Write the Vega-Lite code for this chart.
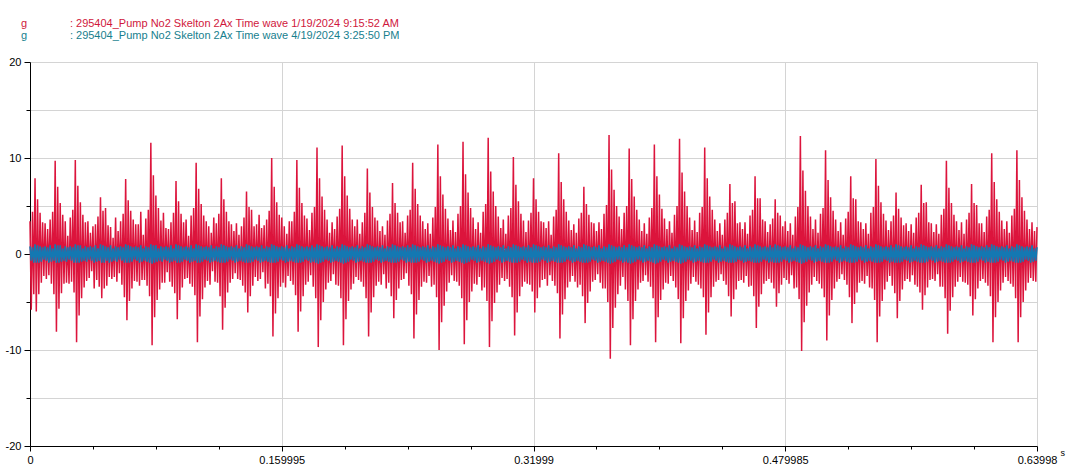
{
"$schema":"https://vega.github.io/schema/vega-lite/v6.json",
"width":1007,"height":384,"autosize":"none",
"padding":{"left":30,"top":62,"right":34,"bottom":26},
"background":"white",
"config":{"view":{"stroke":null},"font":"Liberation Sans"},
"title":{"text":"g\u00a0\u00a0\u00a0\u00a0\u00a0\u00a0\u00a0\u00a0\u00a0\u00a0\u00a0\u00a0\u00a0\u00a0: 295404_Pump No2 Skelton 2Ax Time wave 1/19/2024 9:15:52 AM","subtitle":"g\u00a0\u00a0\u00a0\u00a0\u00a0\u00a0\u00a0\u00a0\u00a0\u00a0\u00a0\u00a0\u00a0\u00a0: 295404_Pump No2 Skelton 2Ax Time wave 4/19/2024 3:25:50 PM","anchor":"start","frame":"group","color":"#D0173C","subtitleColor":"#17808E","fontSize":11,"subtitleFontSize":11,"fontWeight":"normal","font":"Liberation Sans","subtitleFont":"Liberation Sans","offset":15,"dx":-9,"subtitlePadding":1},
"data":{"values":[
{"t":0,"r":3.4,"b":0.8},{"t":0.0008,"r":-5.8,"b":-0.7},{"t":0.0016,"r":4.4,"b":0.7},{"t":0.0024,"r":-4.2,"b":-0.9},{"t":0.0032,"r":7.9,"b":1.0},{"t":0.004,"r":-6.0,"b":-0.9},{"t":0.0048,"r":5.7,"b":0.9},{"t":0.0056,"r":-4.2,"b":-0.9},{"t":0.0064,"r":4.3,"b":0.8},{"t":0.0072,"r":-3.0,"b":-0.8},
{"t":0.008,"r":3.3,"b":0.7},{"t":0.0088,"r":-2.3,"b":-0.6},{"t":0.0096,"r":3.2,"b":0.8},{"t":0.0104,"r":-2.6,"b":-0.7},{"t":0.0112,"r":2.6,"b":0.7},{"t":0.012,"r":-2.2,"b":-0.9},{"t":0.0128,"r":3.6,"b":0.9},{"t":0.0136,"r":-3.1,"b":-0.8},{"t":0.0144,"r":4.4,"b":0.6},{"t":0.0152,"r":-4.2,"b":-0.7},
{"t":0.016,"r":9.7,"b":1.0},{"t":0.0168,"r":-8.1,"b":-0.9},{"t":0.0176,"r":7.0,"b":0.9},{"t":0.0184,"r":-5.7,"b":-0.9},{"t":0.0192,"r":5.3,"b":0.9},{"t":0.02,"r":-4.1,"b":-0.8},{"t":0.0208,"r":4.1,"b":0.6},{"t":0.0216,"r":-3.1,"b":-0.7},{"t":0.0224,"r":3.4,"b":0.8},{"t":0.0232,"r":-3.0,"b":-0.8},
{"t":0.024,"r":1.9,"b":0.7},{"t":0.0248,"r":-3.1,"b":-0.6},{"t":0.0256,"r":3.8,"b":0.8},{"t":0.0264,"r":-2.9,"b":-0.7},{"t":0.0272,"r":4.6,"b":0.7},{"t":0.028,"r":-4.0,"b":-0.9},{"t":0.0288,"r":9.8,"b":1.0},{"t":0.0296,"r":-9.2,"b":-0.9},{"t":0.0304,"r":7.1,"b":0.9},{"t":0.0312,"r":-6.4,"b":-0.9},
{"t":0.032,"r":5.4,"b":0.9},{"t":0.0328,"r":-4.6,"b":-0.8},{"t":0.0336,"r":4.1,"b":0.6},{"t":0.0344,"r":-3.5,"b":-0.7},{"t":0.0352,"r":3.3,"b":0.8},{"t":0.036,"r":-2.8,"b":-0.8},{"t":0.0368,"r":3.4,"b":0.7},{"t":0.0376,"r":-2.5,"b":-0.6},{"t":0.0384,"r":2.2,"b":0.8},{"t":0.0392,"r":-1.8,"b":-0.7},
{"t":0.04,"r":2.9,"b":0.7},{"t":0.0408,"r":-3.6,"b":-0.9},{"t":0.0416,"r":3.1,"b":0.9},{"t":0.0424,"r":-2.7,"b":-0.8},{"t":0.0432,"r":3.9,"b":0.6},{"t":0.044,"r":-3.4,"b":-0.7},{"t":0.0448,"r":5.9,"b":1.0},{"t":0.0456,"r":-4.6,"b":-0.9},{"t":0.0464,"r":4.5,"b":0.9},{"t":0.0472,"r":-3.6,"b":-0.9},
{"t":0.048,"r":4.8,"b":0.8},{"t":0.0488,"r":-3.3,"b":-0.7},{"t":0.0496,"r":3.0,"b":0.7},{"t":0.0504,"r":-2.4,"b":-0.9},{"t":0.0512,"r":2.8,"b":0.9},{"t":0.052,"r":-2.6,"b":-0.8},{"t":0.0528,"r":1.7,"b":0.6},{"t":0.0536,"r":-2.4,"b":-0.7},{"t":0.0544,"r":3.8,"b":0.8},{"t":0.0552,"r":-2.9,"b":-0.8},
{"t":0.056,"r":2.4,"b":0.7},{"t":0.0568,"r":-2.0,"b":-0.6},{"t":0.0576,"r":3.4,"b":0.8},{"t":0.0584,"r":-3.2,"b":-0.7},{"t":0.0592,"r":4.2,"b":0.7},{"t":0.06,"r":-4.5,"b":-0.9},{"t":0.0608,"r":7.8,"b":1.0},{"t":0.0616,"r":-6.9,"b":-0.9},{"t":0.0624,"r":5.6,"b":0.9},{"t":0.0632,"r":-4.9,"b":-0.9},
{"t":0.064,"r":4.5,"b":0.8},{"t":0.0648,"r":-3.6,"b":-0.8},{"t":0.0656,"r":3.6,"b":0.7},{"t":0.0664,"r":-2.8,"b":-0.6},{"t":0.0672,"r":3.1,"b":0.8},{"t":0.068,"r":-2.9,"b":-0.7},{"t":0.0688,"r":3.1,"b":0.7},{"t":0.0696,"r":-3.3,"b":-0.9},{"t":0.0704,"r":4.4,"b":0.9},{"t":0.0712,"r":-2.7,"b":-0.8},
{"t":0.072,"r":2.0,"b":0.6},{"t":0.0728,"r":-2.7,"b":-0.7},{"t":0.0736,"r":3.7,"b":0.8},{"t":0.0744,"r":-3.3,"b":-0.8},{"t":0.0752,"r":4.6,"b":0.7},{"t":0.076,"r":-4.4,"b":-0.9},{"t":0.0768,"r":11.6,"b":1.0},{"t":0.0776,"r":-9.5,"b":-1.0},{"t":0.0784,"r":8.2,"b":0.9},{"t":0.0792,"r":-6.6,"b":-0.9},
{"t":0.08,"r":6.1,"b":0.9},{"t":0.0808,"r":-4.8,"b":-0.8},{"t":0.0816,"r":4.8,"b":0.6},{"t":0.0824,"r":-3.7,"b":-0.7},{"t":0.0832,"r":3.5,"b":0.8},{"t":0.084,"r":-3.0,"b":-0.8},{"t":0.0848,"r":4.3,"b":0.7},{"t":0.0856,"r":-3.0,"b":-0.6},{"t":0.0864,"r":2.7,"b":0.8},{"t":0.0872,"r":-1.9,"b":-0.7},
{"t":0.088,"r":2.6,"b":0.7},{"t":0.0888,"r":-2.9,"b":-0.9},{"t":0.0896,"r":3.3,"b":0.9},{"t":0.0904,"r":-3.4,"b":-0.8},{"t":0.0912,"r":4.3,"b":0.6},{"t":0.092,"r":-4.1,"b":-0.7},{"t":0.0928,"r":7.6,"b":1.0},{"t":0.0936,"r":-6.8,"b":-0.9},{"t":0.0944,"r":5.5,"b":0.9},{"t":0.0952,"r":-4.8,"b":-0.9},
{"t":0.096,"r":4.2,"b":0.8},{"t":0.0968,"r":-3.5,"b":-0.8},{"t":0.0976,"r":3.3,"b":0.7},{"t":0.0984,"r":-2.6,"b":-0.6},{"t":0.0992,"r":3.6,"b":0.8},{"t":0.1,"r":-2.5,"b":-0.7},{"t":0.1008,"r":1.9,"b":0.7},{"t":0.1016,"r":-3.1,"b":-0.9},{"t":0.1024,"r":4.0,"b":0.9},{"t":0.1032,"r":-3.4,"b":-0.8},
{"t":0.104,"r":4.8,"b":0.6},{"t":0.1048,"r":-4.3,"b":-0.7},{"t":0.1056,"r":9.5,"b":1.0},{"t":0.1064,"r":-9.2,"b":-0.9},{"t":0.1072,"r":6.8,"b":0.9},{"t":0.108,"r":-6.5,"b":-0.9},{"t":0.1088,"r":5.2,"b":0.8},{"t":0.1096,"r":-4.7,"b":-0.8},{"t":0.1104,"r":4.0,"b":0.7},{"t":0.1112,"r":-3.5,"b":-0.6},
{"t":0.112,"r":3.4,"b":0.8},{"t":0.1128,"r":-2.8,"b":-0.7},{"t":0.1136,"r":2.9,"b":0.7},{"t":0.1144,"r":-3.2,"b":-0.9},{"t":0.1152,"r":2.2,"b":0.9},{"t":0.116,"r":-1.8,"b":-0.8},{"t":0.1168,"r":3.8,"b":0.6},{"t":0.1176,"r":-2.9,"b":-0.7},{"t":0.1184,"r":3.2,"b":0.8},{"t":0.1192,"r":-3.0,"b":-0.8},
{"t":0.12,"r":4.2,"b":0.7},{"t":0.1208,"r":-4.4,"b":-0.9},{"t":0.1216,"r":7.9,"b":1.0},{"t":0.1224,"r":-7.9,"b":-0.9},{"t":0.1232,"r":5.7,"b":0.9},{"t":0.124,"r":-5.6,"b":-0.9},{"t":0.1248,"r":4.4,"b":0.8},{"t":0.1256,"r":-4.0,"b":-0.8},{"t":0.1264,"r":3.4,"b":0.7},{"t":0.1272,"r":-3.0,"b":-0.6},
{"t":0.128,"r":3.1,"b":0.8},{"t":0.1288,"r":-2.6,"b":-0.7},{"t":0.1296,"r":2.4,"b":0.7},{"t":0.1304,"r":-2.0,"b":-0.9},{"t":0.1312,"r":3.2,"b":0.9},{"t":0.132,"r":-2.6,"b":-0.8},{"t":0.1328,"r":2.0,"b":0.6},{"t":0.1336,"r":-2.7,"b":-0.7},{"t":0.1344,"r":2.9,"b":0.8},{"t":0.1352,"r":-3.3,"b":-0.8},
{"t":0.136,"r":3.8,"b":0.7},{"t":0.1368,"r":-4.0,"b":-0.9},{"t":0.1376,"r":6.5,"b":1.0},{"t":0.1384,"r":-6.1,"b":-0.9},{"t":0.1392,"r":4.9,"b":0.9},{"t":0.14,"r":-4.4,"b":-0.9},{"t":0.1408,"r":4.6,"b":0.8},{"t":0.1416,"r":-3.3,"b":-0.8},{"t":0.1424,"r":2.9,"b":0.7},{"t":0.1432,"r":-2.4,"b":-0.6},
{"t":0.144,"r":3.1,"b":0.8},{"t":0.1448,"r":-2.8,"b":-0.7},{"t":0.1456,"r":4.1,"b":0.7},{"t":0.1464,"r":-2.6,"b":-0.9},{"t":0.1472,"r":2.7,"b":0.9},{"t":0.148,"r":-1.9,"b":-0.8},{"t":0.1488,"r":3.0,"b":0.6},{"t":0.1496,"r":-3.6,"b":-0.7},{"t":0.1504,"r":3.6,"b":0.8},{"t":0.1512,"r":-3.1,"b":-0.8},
{"t":0.152,"r":4.5,"b":0.7},{"t":0.1528,"r":-4.4,"b":-0.9},{"t":0.1536,"r":10.0,"b":1.0},{"t":0.1544,"r":-8.6,"b":-0.9},{"t":0.1552,"r":7.0,"b":0.9},{"t":0.156,"r":-6.2,"b":-0.9},{"t":0.1568,"r":5.4,"b":0.8},{"t":0.1576,"r":-4.6,"b":-0.8},{"t":0.1584,"r":4.1,"b":0.7},{"t":0.1592,"r":-3.4,"b":-0.6},
{"t":0.16,"r":3.8,"b":0.8},{"t":0.1608,"r":-3.0,"b":-0.7},{"t":0.1616,"r":2.9,"b":0.7},{"t":0.1624,"r":-3.5,"b":-0.9},{"t":0.1632,"r":2.1,"b":0.9},{"t":0.164,"r":-2.3,"b":-0.8},{"t":0.1648,"r":3.4,"b":0.6},{"t":0.1656,"r":-2.8,"b":-0.7},{"t":0.1664,"r":3.4,"b":0.8},{"t":0.1672,"r":-3.2,"b":-0.8},
{"t":0.168,"r":4.4,"b":0.7},{"t":0.1688,"r":-4.3,"b":-0.9},{"t":0.1696,"r":9.8,"b":1.0},{"t":0.1704,"r":-8.1,"b":-0.9},{"t":0.1712,"r":6.9,"b":0.9},{"t":0.172,"r":-6.0,"b":-0.9},{"t":0.1728,"r":5.3,"b":0.8},{"t":0.1736,"r":-4.4,"b":-0.8},{"t":0.1744,"r":4.0,"b":0.7},{"t":0.1752,"r":-3.2,"b":-0.6},
{"t":0.176,"r":3.7,"b":0.8},{"t":0.1768,"r":-2.9,"b":-0.7},{"t":0.1776,"r":2.5,"b":0.7},{"t":0.1784,"r":-2.2,"b":-0.9},{"t":0.1792,"r":4.3,"b":0.9},{"t":0.18,"r":-3.4,"b":-0.8},{"t":0.1808,"r":4.9,"b":0.7},{"t":0.1816,"r":-4.6,"b":-0.9},{"t":0.1824,"r":11.1,"b":1.0},{"t":0.1832,"r":-9.7,"b":-1.0},
{"t":0.184,"r":7.9,"b":0.9},{"t":0.1848,"r":-6.9,"b":-0.9},{"t":0.1856,"r":6.0,"b":0.8},{"t":0.1864,"r":-5.0,"b":-0.8},{"t":0.1872,"r":4.6,"b":0.7},{"t":0.188,"r":-3.7,"b":-0.6},{"t":0.1888,"r":3.6,"b":0.8},{"t":0.1896,"r":-3.0,"b":-0.7},{"t":0.1904,"r":2.2,"b":0.7},{"t":0.1912,"r":-2.8,"b":-0.9},
{"t":0.192,"r":3.3,"b":0.9},{"t":0.1928,"r":-2.1,"b":-0.8},{"t":0.1936,"r":2.6,"b":0.6},{"t":0.1944,"r":-3.2,"b":-0.7},{"t":0.1952,"r":3.9,"b":0.8},{"t":0.196,"r":-3.3,"b":-0.8},{"t":0.1968,"r":4.7,"b":0.7},{"t":0.1976,"r":-4.6,"b":-0.9},{"t":0.1984,"r":11.3,"b":1.0},{"t":0.1992,"r":-9.5,"b":-1.0},
{"t":0.2,"r":8.1,"b":0.9},{"t":0.2008,"r":-6.8,"b":-0.9},{"t":0.2016,"r":6.1,"b":0.8},{"t":0.2024,"r":-4.9,"b":-0.8},{"t":0.2032,"r":4.7,"b":0.7},{"t":0.204,"r":-3.7,"b":-0.6},{"t":0.2048,"r":3.6,"b":0.8},{"t":0.2056,"r":-3.1,"b":-0.7},{"t":0.2064,"r":2.9,"b":0.7},{"t":0.2072,"r":-2.4,"b":-0.9},
{"t":0.208,"r":3.6,"b":0.9},{"t":0.2088,"r":-2.7,"b":-0.8},{"t":0.2096,"r":2.1,"b":0.6},{"t":0.2104,"r":-2.9,"b":-0.7},{"t":0.2112,"r":3.3,"b":0.8},{"t":0.212,"r":-3.4,"b":-0.8},{"t":0.2128,"r":4.3,"b":0.7},{"t":0.2136,"r":-4.6,"b":-0.9},{"t":0.2144,"r":8.9,"b":1.0},{"t":0.2152,"r":-8.6,"b":-0.9},
{"t":0.216,"r":6.4,"b":0.9},{"t":0.2168,"r":-6.1,"b":-0.9},{"t":0.2176,"r":4.9,"b":0.8},{"t":0.2184,"r":-4.5,"b":-0.8},{"t":0.2192,"r":3.8,"b":0.7},{"t":0.22,"r":-3.3,"b":-0.6},{"t":0.2208,"r":3.5,"b":0.8},{"t":0.2216,"r":-2.9,"b":-0.7},{"t":0.2224,"r":2.4,"b":0.7},{"t":0.2232,"r":-3.2,"b":-0.9},
{"t":0.224,"r":2.9,"b":0.9},{"t":0.2248,"r":-2.1,"b":-0.8},{"t":0.2256,"r":2.0,"b":0.6},{"t":0.2264,"r":-3.6,"b":-0.7},{"t":0.2272,"r":3.5,"b":0.8},{"t":0.228,"r":-3.0,"b":-0.8},{"t":0.2288,"r":4.2,"b":0.7},{"t":0.2296,"r":-4.4,"b":-0.9},{"t":0.2304,"r":7.4,"b":1.0},{"t":0.2312,"r":-6.7,"b":-0.9},
{"t":0.232,"r":5.3,"b":0.9},{"t":0.2328,"r":-4.8,"b":-0.9},{"t":0.2336,"r":4.3,"b":0.8},{"t":0.2344,"r":-3.6,"b":-0.8},{"t":0.2352,"r":3.3,"b":0.7},{"t":0.236,"r":-2.7,"b":-0.6},{"t":0.2368,"r":3.4,"b":0.8},{"t":0.2376,"r":-2.6,"b":-0.7},{"t":0.2384,"r":2.2,"b":0.7},{"t":0.2392,"r":-2.0,"b":-0.9},
{"t":0.24,"r":4.0,"b":0.9},{"t":0.2408,"r":-3.3,"b":-0.8},{"t":0.2416,"r":4.6,"b":0.7},{"t":0.2424,"r":-4.2,"b":-0.9},{"t":0.2432,"r":9.5,"b":1.0},{"t":0.244,"r":-8.8,"b":-0.9},{"t":0.2448,"r":6.8,"b":0.9},{"t":0.2456,"r":-6.3,"b":-0.9},{"t":0.2464,"r":5.2,"b":0.8},{"t":0.2472,"r":-4.8,"b":-0.8},
{"t":0.248,"r":4.0,"b":0.7},{"t":0.2488,"r":-3.4,"b":-0.6},{"t":0.2496,"r":3.4,"b":0.8},{"t":0.2504,"r":-2.9,"b":-0.7},{"t":0.2512,"r":2.6,"b":0.7},{"t":0.252,"r":-3.0,"b":-0.9},{"t":0.2528,"r":3.2,"b":0.9},{"t":0.2536,"r":-2.3,"b":-0.8},{"t":0.2544,"r":2.1,"b":0.6},{"t":0.2552,"r":-3.4,"b":-0.7},
{"t":0.256,"r":3.8,"b":0.8},{"t":0.2568,"r":-3.2,"b":-0.8},{"t":0.2576,"r":4.9,"b":0.7},{"t":0.2584,"r":-4.5,"b":-0.9},{"t":0.2592,"r":11.4,"b":1.0},{"t":0.26,"r":-10.0,"b":-1.0},{"t":0.2608,"r":8.1,"b":0.9},{"t":0.2616,"r":-7.1,"b":-0.9},{"t":0.2624,"r":6.2,"b":0.8},{"t":0.2632,"r":-5.4,"b":-0.8},
{"t":0.264,"r":4.7,"b":0.7},{"t":0.2648,"r":-3.9,"b":-0.6},{"t":0.2656,"r":3.7,"b":0.8},{"t":0.2664,"r":-3.0,"b":-0.7},{"t":0.2672,"r":2.5,"b":0.7},{"t":0.268,"r":-2.2,"b":-0.9},{"t":0.2688,"r":3.5,"b":0.9},{"t":0.2696,"r":-2.8,"b":-0.8},{"t":0.2704,"r":2.3,"b":0.6},{"t":0.2712,"r":-2.9,"b":-0.7},
{"t":0.272,"r":4.2,"b":0.8},{"t":0.2728,"r":-3.3,"b":-0.8},{"t":0.2736,"r":5.0,"b":0.7},{"t":0.2744,"r":-4.6,"b":-0.9},{"t":0.2752,"r":11.7,"b":1.0},{"t":0.276,"r":-9.4,"b":-1.0},{"t":0.2768,"r":8.3,"b":0.9},{"t":0.2776,"r":-6.9,"b":-0.9},{"t":0.2784,"r":6.4,"b":0.8},{"t":0.2792,"r":-5.0,"b":-0.8},
{"t":0.28,"r":4.8,"b":0.7},{"t":0.2808,"r":-3.9,"b":-0.6},{"t":0.2816,"r":3.8,"b":0.8},{"t":0.2824,"r":-3.1,"b":-0.7},{"t":0.2832,"r":2.6,"b":0.7},{"t":0.284,"r":-3.2,"b":-0.9},{"t":0.2848,"r":3.3,"b":0.9},{"t":0.2856,"r":-2.4,"b":-0.8},{"t":0.2864,"r":2.2,"b":0.6},{"t":0.2872,"r":-3.8,"b":-0.7},
{"t":0.288,"r":4.4,"b":0.8},{"t":0.2888,"r":-3.5,"b":-0.8},{"t":0.2896,"r":5.2,"b":0.7},{"t":0.2904,"r":-4.9,"b":-0.9},{"t":0.2912,"r":12.1,"b":1.0},{"t":0.292,"r":-9.7,"b":-1.0},{"t":0.2928,"r":8.6,"b":0.9},{"t":0.2936,"r":-7.0,"b":-0.9},{"t":0.2944,"r":6.5,"b":0.8},{"t":0.2952,"r":-5.1,"b":-0.8},
{"t":0.296,"r":5.0,"b":0.7},{"t":0.2968,"r":-4.0,"b":-0.6},{"t":0.2976,"r":3.9,"b":0.8},{"t":0.2984,"r":-3.2,"b":-0.7},{"t":0.2992,"r":2.7,"b":0.7},{"t":0.3,"r":-2.5,"b":-0.9},{"t":0.3008,"r":3.6,"b":0.9},{"t":0.3016,"r":-2.8,"b":-0.8},{"t":0.3024,"r":2.1,"b":0.6},{"t":0.3032,"r":-2.6,"b":-0.7},
{"t":0.304,"r":4.0,"b":0.8},{"t":0.3048,"r":-3.4,"b":-0.8},{"t":0.3056,"r":4.8,"b":0.7},{"t":0.3064,"r":-4.5,"b":-0.9},{"t":0.3072,"r":10.1,"b":1.0},{"t":0.308,"r":-8.5,"b":-0.9},{"t":0.3088,"r":7.2,"b":0.9},{"t":0.3096,"r":-6.1,"b":-0.9},{"t":0.3104,"r":5.5,"b":0.8},{"t":0.3112,"r":-4.4,"b":-0.8},
{"t":0.312,"r":4.2,"b":0.7},{"t":0.3128,"r":-3.4,"b":-0.6},{"t":0.3136,"r":3.5,"b":0.8},{"t":0.3144,"r":-2.9,"b":-0.7},{"t":0.3152,"r":2.3,"b":0.7},{"t":0.316,"r":-3.1,"b":-0.9},{"t":0.3168,"r":3.5,"b":0.9},{"t":0.3176,"r":-3.2,"b":-0.8},{"t":0.3184,"r":4.3,"b":0.7},{"t":0.3192,"r":-3.9,"b":-0.9},
{"t":0.32,"r":7.9,"b":1.0},{"t":0.3208,"r":-6.1,"b":-0.9},{"t":0.3216,"r":5.7,"b":0.9},{"t":0.3224,"r":-4.6,"b":-0.9},{"t":0.3232,"r":4.4,"b":0.8},{"t":0.324,"r":-3.5,"b":-0.8},{"t":0.3248,"r":3.4,"b":0.7},{"t":0.3256,"r":-2.7,"b":-0.6},{"t":0.3264,"r":3.3,"b":0.8},{"t":0.3272,"r":-2.6,"b":-0.7},
{"t":0.328,"r":2.7,"b":0.7},{"t":0.3288,"r":-3.3,"b":-0.9},{"t":0.3296,"r":3.4,"b":0.9},{"t":0.3304,"r":-2.2,"b":-0.8},{"t":0.3312,"r":2.0,"b":0.6},{"t":0.332,"r":-2.8,"b":-0.7},{"t":0.3328,"r":3.9,"b":0.8},{"t":0.3336,"r":-3.3,"b":-0.8},{"t":0.3344,"r":4.6,"b":0.7},{"t":0.3352,"r":-4.1,"b":-0.9},
{"t":0.336,"r":10.5,"b":1.0},{"t":0.3368,"r":-8.8,"b":-0.9},{"t":0.3376,"r":7.5,"b":0.9},{"t":0.3384,"r":-6.3,"b":-0.9},{"t":0.3392,"r":5.7,"b":0.8},{"t":0.34,"r":-4.7,"b":-0.8},{"t":0.3408,"r":4.4,"b":0.7},{"t":0.3416,"r":-3.5,"b":-0.6},{"t":0.3424,"r":3.5,"b":0.8},{"t":0.3432,"r":-2.9,"b":-0.7},
{"t":0.344,"r":2.5,"b":0.7},{"t":0.3448,"r":-2.3,"b":-0.9},{"t":0.3456,"r":3.1,"b":0.9},{"t":0.3464,"r":-2.9,"b":-0.8},{"t":0.3472,"r":2.2,"b":0.6},{"t":0.348,"r":-3.5,"b":-0.7},{"t":0.3488,"r":3.7,"b":0.8},{"t":0.3496,"r":-3.2,"b":-0.8},{"t":0.3504,"r":4.3,"b":0.7},{"t":0.3512,"r":-4.4,"b":-0.9},
{"t":0.352,"r":7.0,"b":1.0},{"t":0.3528,"r":-7.2,"b":-0.9},{"t":0.3536,"r":5.2,"b":0.9},{"t":0.3544,"r":-5.1,"b":-0.9},{"t":0.3552,"r":4.1,"b":0.8},{"t":0.356,"r":-3.9,"b":-0.8},{"t":0.3568,"r":3.3,"b":0.7},{"t":0.3576,"r":-2.9,"b":-0.6},{"t":0.3584,"r":3.2,"b":0.8},{"t":0.3592,"r":-2.7,"b":-0.7},
{"t":0.36,"r":2.4,"b":0.7},{"t":0.3608,"r":-2.1,"b":-0.9},{"t":0.3616,"r":3.3,"b":0.9},{"t":0.3624,"r":-3.0,"b":-0.8},{"t":0.3632,"r":2.6,"b":0.6},{"t":0.364,"r":-3.6,"b":-0.7},{"t":0.3648,"r":4.2,"b":0.8},{"t":0.3656,"r":-3.6,"b":-0.8},{"t":0.3664,"r":5.1,"b":0.7},{"t":0.3672,"r":-5.0,"b":-0.9},
{"t":0.368,"r":12.4,"b":1.0},{"t":0.3688,"r":-10.9,"b":-1.0},{"t":0.3696,"r":8.8,"b":0.9},{"t":0.3704,"r":-7.7,"b":-0.9},{"t":0.3712,"r":6.7,"b":0.8},{"t":0.372,"r":-5.6,"b":-0.8},{"t":0.3728,"r":5.0,"b":0.7},{"t":0.3736,"r":-4.2,"b":-0.6},{"t":0.3744,"r":3.9,"b":0.8},{"t":0.3752,"r":-3.3,"b":-0.7},
{"t":0.376,"r":2.6,"b":0.7},{"t":0.3768,"r":-2.4,"b":-0.9},{"t":0.3776,"r":4.3,"b":0.9},{"t":0.3784,"r":-3.7,"b":-0.8},{"t":0.3792,"r":5.0,"b":0.7},{"t":0.38,"r":-4.9,"b":-0.9},{"t":0.3808,"r":11.0,"b":1.0},{"t":0.3816,"r":-9.5,"b":-1.0},{"t":0.3824,"r":7.8,"b":0.9},{"t":0.3832,"r":-6.8,"b":-0.9},
{"t":0.384,"r":6.0,"b":0.8},{"t":0.3848,"r":-4.9,"b":-0.8},{"t":0.3856,"r":4.6,"b":0.7},{"t":0.3864,"r":-3.7,"b":-0.6},{"t":0.3872,"r":3.6,"b":0.8},{"t":0.388,"r":-3.0,"b":-0.7},{"t":0.3888,"r":2.4,"b":0.7},{"t":0.3896,"r":-2.8,"b":-0.9},{"t":0.3904,"r":3.2,"b":0.9},{"t":0.3912,"r":-2.2,"b":-0.8},
{"t":0.392,"r":2.1,"b":0.6},{"t":0.3928,"r":-2.9,"b":-0.7},{"t":0.3936,"r":3.8,"b":0.8},{"t":0.3944,"r":-3.4,"b":-0.8},{"t":0.3952,"r":4.8,"b":0.7},{"t":0.396,"r":-4.6,"b":-0.9},{"t":0.3968,"r":11.4,"b":1.0},{"t":0.3976,"r":-9.2,"b":-1.0},{"t":0.3984,"r":8.1,"b":0.9},{"t":0.3992,"r":-6.6,"b":-0.9},
{"t":0.4,"r":6.2,"b":0.8},{"t":0.4008,"r":-4.8,"b":-0.8},{"t":0.4016,"r":4.7,"b":0.7},{"t":0.4024,"r":-3.7,"b":-0.6},{"t":0.4032,"r":3.7,"b":0.8},{"t":0.404,"r":-3.0,"b":-0.7},{"t":0.4048,"r":2.6,"b":0.7},{"t":0.4056,"r":-3.1,"b":-0.9},{"t":0.4064,"r":3.4,"b":0.9},{"t":0.4072,"r":-2.3,"b":-0.8},
{"t":0.408,"r":2.2,"b":0.6},{"t":0.4088,"r":-2.8,"b":-0.7},{"t":0.4096,"r":4.1,"b":0.8},{"t":0.4104,"r":-3.5,"b":-0.8},{"t":0.4112,"r":5.0,"b":0.7},{"t":0.412,"r":-4.7,"b":-0.9},{"t":0.4128,"r":12.0,"b":1.0},{"t":0.4136,"r":-9.3,"b":-1.0},{"t":0.4144,"r":8.5,"b":0.9},{"t":0.4152,"r":-6.7,"b":-0.9},
{"t":0.416,"r":6.5,"b":0.8},{"t":0.4168,"r":-4.9,"b":-0.8},{"t":0.4176,"r":5.0,"b":0.7},{"t":0.4184,"r":-3.8,"b":-0.6},{"t":0.4192,"r":3.8,"b":0.8},{"t":0.42,"r":-3.1,"b":-0.7},{"t":0.4208,"r":2.5,"b":0.7},{"t":0.4216,"r":-2.4,"b":-0.9},{"t":0.4224,"r":3.5,"b":0.9},{"t":0.4232,"r":-2.9,"b":-0.8},
{"t":0.424,"r":2.3,"b":0.6},{"t":0.4248,"r":-3.2,"b":-0.7},{"t":0.4256,"r":4.3,"b":0.8},{"t":0.4264,"r":-3.6,"b":-0.8},{"t":0.4272,"r":4.9,"b":0.7},{"t":0.428,"r":-4.5,"b":-0.9},{"t":0.4288,"r":11.1,"b":1.0},{"t":0.4296,"r":-8.4,"b":-0.9},{"t":0.4304,"r":7.9,"b":0.9},{"t":0.4312,"r":-6.1,"b":-0.9},
{"t":0.432,"r":6.0,"b":0.8},{"t":0.4328,"r":-4.5,"b":-0.8},{"t":0.4336,"r":4.6,"b":0.7},{"t":0.4344,"r":-3.4,"b":-0.6},{"t":0.4352,"r":3.6,"b":0.8},{"t":0.436,"r":-2.9,"b":-0.7},{"t":0.4368,"r":2.4,"b":0.7},{"t":0.4376,"r":-2.7,"b":-0.9},{"t":0.4384,"r":3.2,"b":0.9},{"t":0.4392,"r":-2.1,"b":-0.8},
{"t":0.44,"r":2.0,"b":0.6},{"t":0.4408,"r":-2.8,"b":-0.7},{"t":0.4416,"r":3.6,"b":0.8},{"t":0.4424,"r":-3.2,"b":-0.8},{"t":0.4432,"r":4.3,"b":0.7},{"t":0.444,"r":-4.4,"b":-0.9},{"t":0.4448,"r":7.3,"b":1.0},{"t":0.4456,"r":-6.5,"b":-0.9},{"t":0.4464,"r":5.3,"b":0.9},{"t":0.4472,"r":-4.7,"b":-0.9},
{"t":0.448,"r":5.5,"b":0.8},{"t":0.4488,"r":-3.7,"b":-0.8},{"t":0.4496,"r":3.2,"b":0.7},{"t":0.4504,"r":-2.8,"b":-0.6},{"t":0.4512,"r":3.3,"b":0.8},{"t":0.452,"r":-2.7,"b":-0.7},{"t":0.4528,"r":2.6,"b":0.7},{"t":0.4536,"r":-3.0,"b":-0.9},{"t":0.4544,"r":3.3,"b":0.9},{"t":0.4552,"r":-2.3,"b":-0.8},
{"t":0.456,"r":2.1,"b":0.6},{"t":0.4568,"r":-3.4,"b":-0.7},{"t":0.4576,"r":4.0,"b":0.8},{"t":0.4584,"r":-3.3,"b":-0.8},{"t":0.4592,"r":4.6,"b":0.7},{"t":0.46,"r":-4.4,"b":-0.9},{"t":0.4608,"r":8.1,"b":1.0},{"t":0.4616,"r":-7.7,"b":-0.9},{"t":0.4624,"r":5.8,"b":0.9},{"t":0.4632,"r":-5.5,"b":-0.9},
{"t":0.464,"r":5.8,"b":0.8},{"t":0.4648,"r":-4.2,"b":-0.8},{"t":0.4656,"r":3.6,"b":0.7},{"t":0.4664,"r":-3.1,"b":-0.6},{"t":0.4672,"r":3.4,"b":0.8},{"t":0.468,"r":-2.8,"b":-0.7},{"t":0.4688,"r":2.3,"b":0.7},{"t":0.4696,"r":-2.6,"b":-0.9},{"t":0.4704,"r":3.1,"b":0.9},{"t":0.4712,"r":-3.0,"b":-0.8},
{"t":0.472,"r":3.7,"b":0.7},{"t":0.4728,"r":-3.6,"b":-0.9},{"t":0.4736,"r":5.7,"b":1.0},{"t":0.4744,"r":-5.5,"b":-0.9},{"t":0.4752,"r":4.3,"b":0.9},{"t":0.476,"r":-4.1,"b":-0.9},{"t":0.4768,"r":4.0,"b":0.8},{"t":0.4776,"r":-3.2,"b":-0.8},{"t":0.4784,"r":2.9,"b":0.7},{"t":0.4792,"r":-2.5,"b":-0.6},
{"t":0.48,"r":3.4,"b":0.8},{"t":0.4808,"r":-2.7,"b":-0.7},{"t":0.4816,"r":2.4,"b":0.7},{"t":0.4824,"r":-3.1,"b":-0.9},{"t":0.4832,"r":3.2,"b":0.9},{"t":0.484,"r":-2.2,"b":-0.8},{"t":0.4848,"r":2.0,"b":0.6},{"t":0.4856,"r":-3.6,"b":-0.7},{"t":0.4864,"r":3.9,"b":0.8},{"t":0.4872,"r":-3.5,"b":-0.8},
{"t":0.488,"r":4.9,"b":0.7},{"t":0.4888,"r":-4.7,"b":-0.9},{"t":0.4896,"r":12.3,"b":1.0},{"t":0.4904,"r":-10.1,"b":-1.0},{"t":0.4912,"r":8.7,"b":0.9},{"t":0.492,"r":-7.1,"b":-0.9},{"t":0.4928,"r":6.6,"b":0.8},{"t":0.4936,"r":-5.4,"b":-0.8},{"t":0.4944,"r":5.0,"b":0.7},{"t":0.4952,"r":-4.0,"b":-0.6},
{"t":0.496,"r":3.9,"b":0.8},{"t":0.4968,"r":-3.2,"b":-0.7},{"t":0.4976,"r":2.6,"b":0.7},{"t":0.4984,"r":-2.4,"b":-0.9},{"t":0.4992,"r":3.6,"b":0.9},{"t":0.5,"r":-2.8,"b":-0.8},{"t":0.5008,"r":2.2,"b":0.6},{"t":0.5016,"r":-3.1,"b":-0.7},{"t":0.5024,"r":4.2,"b":0.8},{"t":0.5032,"r":-3.6,"b":-0.8},
{"t":0.504,"r":4.8,"b":0.7},{"t":0.5048,"r":-4.5,"b":-0.9},{"t":0.5056,"r":10.8,"b":1.0},{"t":0.5064,"r":-9.0,"b":-0.9},{"t":0.5072,"r":7.7,"b":0.9},{"t":0.508,"r":-6.4,"b":-0.9},{"t":0.5088,"r":5.9,"b":0.8},{"t":0.5096,"r":-4.8,"b":-0.8},{"t":0.5104,"r":4.5,"b":0.7},{"t":0.5112,"r":-3.6,"b":-0.6},
{"t":0.512,"r":3.6,"b":0.8},{"t":0.5128,"r":-2.9,"b":-0.7},{"t":0.5136,"r":2.4,"b":0.7},{"t":0.5144,"r":-2.6,"b":-0.9},{"t":0.5152,"r":3.3,"b":0.9},{"t":0.516,"r":-2.1,"b":-0.8},{"t":0.5168,"r":2.0,"b":0.6},{"t":0.5176,"r":-2.7,"b":-0.7},{"t":0.5184,"r":3.7,"b":0.8},{"t":0.5192,"r":-3.2,"b":-0.8},
{"t":0.52,"r":4.4,"b":0.7},{"t":0.5208,"r":-4.5,"b":-0.9},{"t":0.5216,"r":8.1,"b":1.0},{"t":0.5224,"r":-7.2,"b":-0.9},{"t":0.5232,"r":5.8,"b":0.9},{"t":0.524,"r":-5.2,"b":-0.9},{"t":0.5248,"r":5.7,"b":0.8},{"t":0.5256,"r":-4.0,"b":-0.8},{"t":0.5264,"r":3.4,"b":0.7},{"t":0.5272,"r":-3.0,"b":-0.6},
{"t":0.528,"r":3.3,"b":0.8},{"t":0.5288,"r":-2.8,"b":-0.7},{"t":0.5296,"r":2.6,"b":0.7},{"t":0.5304,"r":-3.1,"b":-0.9},{"t":0.5312,"r":3.2,"b":0.9},{"t":0.532,"r":-2.3,"b":-0.8},{"t":0.5328,"r":2.1,"b":0.6},{"t":0.5336,"r":-3.5,"b":-0.7},{"t":0.5344,"r":4.3,"b":0.8},{"t":0.5352,"r":-3.6,"b":-0.8},
{"t":0.536,"r":4.9,"b":0.7},{"t":0.5368,"r":-4.8,"b":-0.9},{"t":0.5376,"r":9.9,"b":1.0},{"t":0.5384,"r":-9.2,"b":-0.9},{"t":0.5392,"r":7.1,"b":0.9},{"t":0.54,"r":-6.5,"b":-0.9},{"t":0.5408,"r":5.4,"b":0.8},{"t":0.5416,"r":-4.9,"b":-0.8},{"t":0.5424,"r":4.2,"b":0.7},{"t":0.5432,"r":-3.7,"b":-0.6},
{"t":0.544,"r":3.5,"b":0.8},{"t":0.5448,"r":-2.9,"b":-0.7},{"t":0.5456,"r":2.5,"b":0.7},{"t":0.5464,"r":-2.3,"b":-0.9},{"t":0.5472,"r":3.4,"b":0.9},{"t":0.548,"r":-3.3,"b":-0.8},{"t":0.5488,"r":4.0,"b":0.7},{"t":0.5496,"r":-4.1,"b":-0.9},{"t":0.5504,"r":6.4,"b":1.0},{"t":0.5512,"r":-6.7,"b":-0.9},
{"t":0.552,"r":4.7,"b":0.9},{"t":0.5528,"r":-4.9,"b":-0.9},{"t":0.5536,"r":3.8,"b":0.8},{"t":0.5544,"r":-3.7,"b":-0.8},{"t":0.5552,"r":3.0,"b":0.7},{"t":0.556,"r":-2.8,"b":-0.6},{"t":0.5568,"r":3.2,"b":0.8},{"t":0.5576,"r":-2.6,"b":-0.7},{"t":0.5584,"r":2.4,"b":0.7},{"t":0.5592,"r":-2.9,"b":-0.9},
{"t":0.56,"r":3.1,"b":0.9},{"t":0.5608,"r":-2.2,"b":-0.8},{"t":0.5616,"r":2.2,"b":0.6},{"t":0.5624,"r":-3.2,"b":-0.7},{"t":0.5632,"r":3.8,"b":0.8},{"t":0.564,"r":-3.4,"b":-0.8},{"t":0.5648,"r":4.3,"b":0.7},{"t":0.5656,"r":-4.0,"b":-0.9},{"t":0.5664,"r":7.2,"b":1.0},{"t":0.5672,"r":-5.8,"b":-0.9},
{"t":0.568,"r":5.3,"b":0.9},{"t":0.5688,"r":-4.3,"b":-0.9},{"t":0.5696,"r":5.4,"b":0.8},{"t":0.5704,"r":-3.5,"b":-0.8},{"t":0.5712,"r":3.3,"b":0.7},{"t":0.572,"r":-2.7,"b":-0.6},{"t":0.5728,"r":3.2,"b":0.8},{"t":0.5736,"r":-2.6,"b":-0.7},{"t":0.5744,"r":2.3,"b":0.7},{"t":0.5752,"r":-2.8,"b":-0.9},
{"t":0.576,"r":3.1,"b":0.9},{"t":0.5768,"r":-2.1,"b":-0.8},{"t":0.5776,"r":2.1,"b":0.6},{"t":0.5784,"r":-3.4,"b":-0.7},{"t":0.5792,"r":4.1,"b":0.8},{"t":0.58,"r":-3.4,"b":-0.8},{"t":0.5808,"r":4.7,"b":0.7},{"t":0.5816,"r":-4.6,"b":-0.9},{"t":0.5824,"r":9.7,"b":1.0},{"t":0.5832,"r":-8.3,"b":-0.9},
{"t":0.584,"r":6.9,"b":0.9},{"t":0.5848,"r":-5.9,"b":-0.9},{"t":0.5856,"r":5.3,"b":0.8},{"t":0.5864,"r":-4.5,"b":-0.8},{"t":0.5872,"r":4.1,"b":0.7},{"t":0.588,"r":-3.4,"b":-0.6},{"t":0.5888,"r":3.4,"b":0.8},{"t":0.5896,"r":-2.9,"b":-0.7},{"t":0.5904,"r":2.5,"b":0.7},{"t":0.5912,"r":-2.4,"b":-0.9},
{"t":0.592,"r":3.3,"b":0.9},{"t":0.5928,"r":-2.9,"b":-0.8},{"t":0.5936,"r":2.1,"b":0.6},{"t":0.5944,"r":-3.0,"b":-0.7},{"t":0.5952,"r":3.6,"b":0.8},{"t":0.596,"r":-3.2,"b":-0.8},{"t":0.5968,"r":4.3,"b":0.7},{"t":0.5976,"r":-4.4,"b":-0.9},{"t":0.5984,"r":7.3,"b":1.0},{"t":0.5992,"r":-6.4,"b":-0.9},
{"t":0.6,"r":5.3,"b":0.9},{"t":0.6008,"r":-4.7,"b":-0.9},{"t":0.6016,"r":5.1,"b":0.8},{"t":0.6024,"r":-3.6,"b":-0.8},{"t":0.6032,"r":3.2,"b":0.7},{"t":0.604,"r":-2.8,"b":-0.6},{"t":0.6048,"r":3.2,"b":0.8},{"t":0.6056,"r":-2.6,"b":-0.7},{"t":0.6064,"r":2.3,"b":0.7},{"t":0.6072,"r":-3.0,"b":-0.9},
{"t":0.608,"r":3.9,"b":0.9},{"t":0.6088,"r":-3.3,"b":-0.8},{"t":0.6096,"r":4.6,"b":0.7},{"t":0.6104,"r":-4.4,"b":-0.9},{"t":0.6112,"r":10.5,"b":1.0},{"t":0.612,"r":-9.2,"b":-0.9},{"t":0.6128,"r":7.5,"b":0.9},{"t":0.6136,"r":-6.6,"b":-0.9},{"t":0.6144,"r":5.7,"b":0.8},{"t":0.6152,"r":-5.0,"b":-0.8},
{"t":0.616,"r":4.4,"b":0.7},{"t":0.6168,"r":-3.8,"b":-0.6},{"t":0.6176,"r":3.5,"b":0.8},{"t":0.6184,"r":-3.0,"b":-0.7},{"t":0.6192,"r":2.6,"b":0.7},{"t":0.62,"r":-2.4,"b":-0.9},{"t":0.6208,"r":3.4,"b":0.9},{"t":0.6216,"r":-2.8,"b":-0.8},{"t":0.6224,"r":2.2,"b":0.6},{"t":0.6232,"r":-3.1,"b":-0.7},
{"t":0.624,"r":4.0,"b":0.8},{"t":0.6248,"r":-3.4,"b":-0.8},{"t":0.6256,"r":4.7,"b":0.7},{"t":0.6264,"r":-4.6,"b":-0.9},{"t":0.6272,"r":10.8,"b":1.0},{"t":0.628,"r":-9.2,"b":-0.9},{"t":0.6288,"r":7.7,"b":0.9},{"t":0.6296,"r":-6.6,"b":-0.9},{"t":0.6304,"r":5.9,"b":0.8},{"t":0.6312,"r":-5.0,"b":-0.8},
{"t":0.632,"r":4.5,"b":0.7},{"t":0.6328,"r":-3.8,"b":-0.6},{"t":0.6336,"r":3.6,"b":0.8},{"t":0.6344,"r":-3.0,"b":-0.7},{"t":0.6352,"r":2.6,"b":0.7},{"t":0.636,"r":-2.5,"b":-0.9},{"t":0.6368,"r":3.3,"b":0.9},{"t":0.6376,"r":-2.8,"b":-0.8},{"t":0.6384,"r":2.4,"b":0.6},{"t":0.6392,"r":-2.9,"b":-0.7},
{"t":0.63998,"r":2.8,"b":0.7}
]},
"encoding":{"x":{"field":"t","type":"quantitative","scale":{"domain":[0,0.63998],"nice":false,"zero":false},"axis":{"values":[0,0.03999875,0.0799975,0.11999625,0.159995,0.19999375,0.2399925,0.27999125,0.31999,0.35998875,0.3999875,0.43998625,0.479985,0.51998375,0.5599825,0.59998125,0.63998],"labelExpr":"abs(datum.value/0.159995 - round(datum.value/0.159995)) < 0.001 ? format(datum.value, '.6~f') : ''","labelFlush":false,"labelOverlap":false,"labelFontSize":11,"labelFont":"Liberation Sans","labelColor":"black","labelPadding":3,"domainColor":"black","tickColor":"black","tickSize":{"condition":{"test":"abs(datum.value/0.159995 - round(datum.value/0.159995)) < 0.001","value":5},"value":3},"grid":true,"gridColor":"#D4D4D4","gridOpacity":{"condition":{"test":"abs(datum.value/0.159995 - round(datum.value/0.159995)) < 0.001","value":1},"value":0},"title":"s","titleX":1030,"titleY":6,"titleAlign":"left","titleBaseline":"middle","titleFontSize":9,"titleFontWeight":"normal","titleColor":"black","titleFont":"Liberation Sans"}}},
"layer":[
{"mark":{"type":"line","color":"#DC143C","strokeWidth":1.5},
 "encoding":{"y":{"field":"r","type":"quantitative","scale":{"domain":[-20,20],"nice":false,"zero":false},"axis":{"values":[-20,-17.5,-15,-12.5,-10,-7.5,-5,-2.5,0,2.5,5,7.5,10,12.5,15,17.5,20],"labelExpr":"datum.value % 10 === 0 ? '' + datum.value : ''","labelOverlap":false,"labelFontSize":11,"labelFont":"Liberation Sans","labelColor":"black","labelPadding":3,"domainColor":"black","tickColor":"black","tickSize":{"condition":{"test":"datum.value % 10 === 0","value":6},"value":4},"grid":true,"gridColor":"#D4D4D4","title":null}}}},
{"mark":{"type":"line","color":"#1478B2","strokeWidth":1.6},
 "encoding":{"y":{"field":"b","type":"quantitative","title":null}}}
]
}
